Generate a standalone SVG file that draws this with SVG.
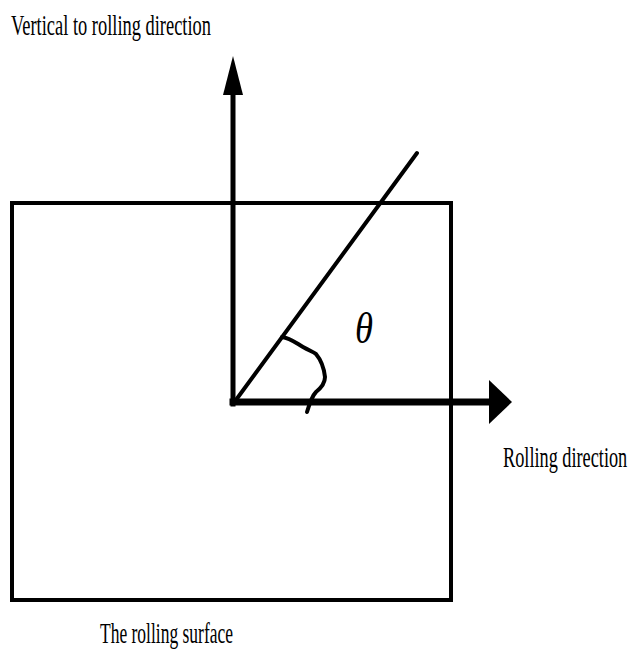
<svg xmlns="http://www.w3.org/2000/svg" width="633" height="653" viewBox="0 0 633 653">
<style>
.ln{stroke:#000;fill:none;stroke-linecap:square}
.lbl{font-size:29px;fill:#000}
</style>
<rect width="633" height="653" fill="#fff"/>
<g id="surface">
<rect class="ln" x="12" y="203" width="439" height="397" stroke-width="4"/>
</g>
<g id="connectors">
<line class="ln" x1="233" y1="404" x2="233" y2="93" stroke-width="5"/>
<polygon points="233,56 243,95 223,95" fill="#000"/>
<line class="ln" x1="233" y1="402" x2="490" y2="402" stroke-width="7"/>
<polygon points="512,402 489,380 489,424" fill="#000"/>
<line x1="233" y1="404" x2="417" y2="153" stroke="#000" stroke-width="4" stroke-linecap="round"/>
<path d="M282,337 C290,338 296,343 303,347 C310,351 314,352 316,354 C321,360 324,368 325,377 C325,384 321,388 316,392 C312,396 310,402 307,412" fill="none" stroke="#000" stroke-width="4" stroke-linecap="round"/>
</g>
<g id="label-vertical">
<text class="lbl" font-family="Liberation Serif, Times New Roman, serif" x="11" y="35" textLength="200" lengthAdjust="spacingAndGlyphs">Vertical to rolling direction</text>
</g>
<g id="label-rolling">
<text class="lbl" font-family="Liberation Serif, Times New Roman, serif" transform="translate(503,467) scale(0.63,1)" x="0" y="0">Rolling direction</text>
</g>
<g id="label-surface">
<text class="lbl" font-family="Liberation Serif, Times New Roman, serif" x="100" y="643" textLength="133" lengthAdjust="spacingAndGlyphs">The rolling surface</text>
</g>
<g id="label-theta">
<text x="355" y="343" font-family="Liberation Serif, serif" font-style="italic" font-size="44" textLength="18" lengthAdjust="spacingAndGlyphs">θ</text>
</g>
</svg>
